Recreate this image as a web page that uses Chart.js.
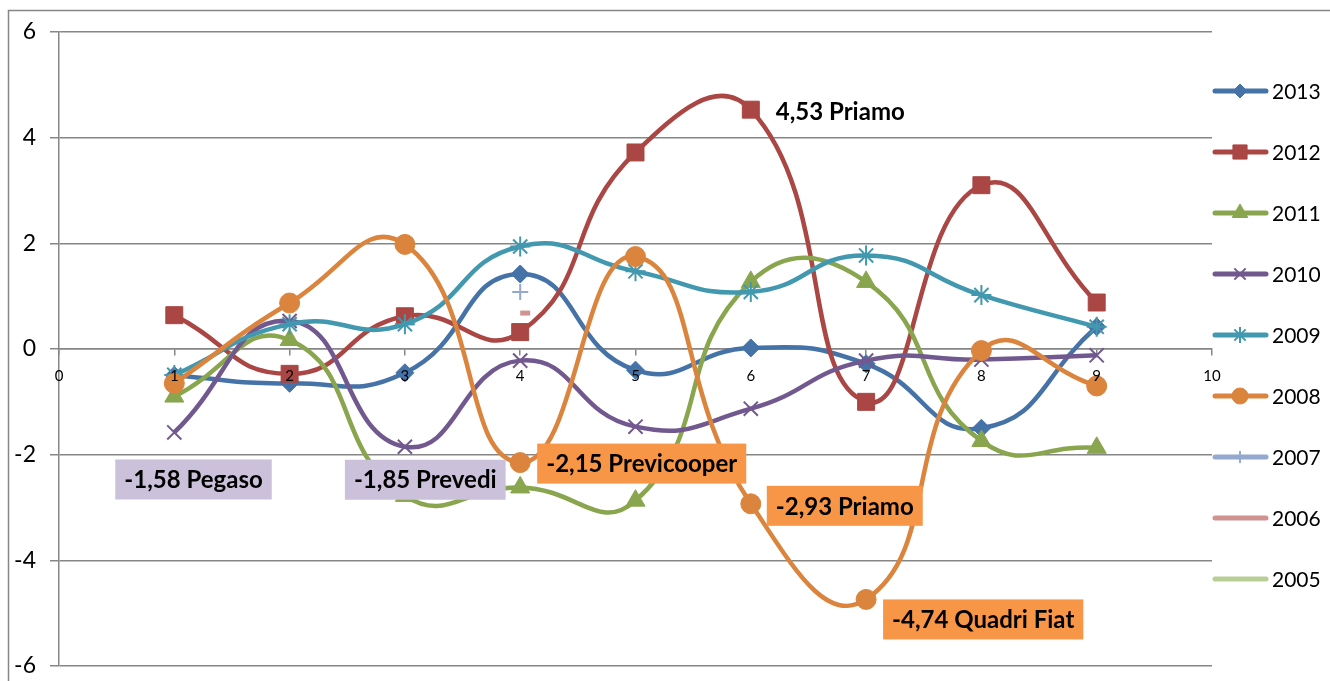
<!DOCTYPE html>
<html>
<head>
<meta charset="utf-8">
<script src="https://cdn.jsdelivr.net/npm/chart.js@4.4.0/dist/chart.umd.min.js"></script>
<style>
  html, body { margin: 0; padding: 0; background: #fff; }
  #wrap { position: relative; width: 1330px; height: 681px; }
</style>
</head>
<body>
<div id="wrap"><canvas id="chart" width="1330" height="681"></canvas></div>
<script>
// positions along the x axis (1..9)
const positions = [1, 2, 3, 4, 5, 6, 7, 8, 9];
const years = ['2013', '2012', '2011', '2010', '2009', '2008', '2007', '2006', '2005'];

const v2013 = [-0.50, -0.65, -0.45, 1.42, -0.40, 0.02, -0.28, -1.50, 0.42];
const v2012 = [0.64, -0.47, 0.62, 0.32, 3.72, 4.53, -1.00, 3.10, 0.88];
const v2011 = [-0.90, 0.17, -2.78, -2.62, -2.87, 1.27, 1.27, -1.74, -1.87];
const v2010 = [-1.58, 0.53, -1.85, -0.22, -1.47, -1.13, -0.22, -0.20, -0.12];
const v2009 = [-0.49, 0.47, 0.47, 1.94, 1.47, 1.08, 1.77, 1.02, 0.42];
const v2008 = [-0.65, 0.87, 1.98, -2.15, 1.75, -2.93, -4.74, -0.03, -0.70];
const v2007 = [null, null, null, 1.08, null, null, null, null, null];
const v2006 = [null, null, null, 0.68, null, null, null, null, null];
const v2005 = [null, null, null, null, null, null, null, null, null];
const seriesValues = [v2013, v2012, v2011, v2010, v2009, v2008, v2007, v2006, v2005];

const yTicks = [-6, -4, -2, 0, 2, 4, 6];
const xTicks = [0, 1, 2, 3, 4, 5, 6, 7, 8, 9, 10];

// annotated points: series, position index, name
const calloutSeries = ['2010', '2010', '2008', '2008', '2008', '2012'];
const calloutIndex = [0, 2, 3, 5, 6, 5];
const calloutNames = ['Pegaso', 'Prevedi', 'Previcooper', 'Priamo', 'Quadri Fiat', 'Priamo'];

// look of each series
const colors = ['#4572a7', '#aa4643', '#89a54e', '#71588f', '#4198af', '#db843d', '#93a9cf', '#d19392', '#b9cd96'];
const markers = ['rectRot', 'rect', 'triangle', 'crossRot', 'star', 'circle', 'cross', 'dash', false];
const markerSize = [9, 12, 11, 10, 10, 10, 8, 10, 0];
const markerLine = [1, 1, 1, 2, 2, 1, 2, 5, 1];

// callout boxes: offset from the point, fill
const calloutStyle = [
  { dx: -59, dy: 47, bg: '#ccc1da' },
  { dx: -60, dy: 33, bg: '#ccc1da' },
  { dx: 17, dy: 1, bg: '#f79646' },
  { dx: 16, dy: 2, bg: '#f79646' },
  { dx: 17, dy: 20, bg: '#f79646' },
  { dx: 16, dy: 2, bg: null }
];

const GRID = '#868686';
const labelFont = 'bold 24px Lato, "Open Sans", sans-serif';

const fmt = v => v.toFixed(2).replace('.', ',');

const datasets = years.map((y, i) => ({
  label: y,
  data: positions.map((p, k) => ({ x: p, y: seriesValues[i][k] })),
  showLine: true,
  borderColor: colors[i],
  backgroundColor: colors[i],
  borderWidth: 4.5,
  tension: 0.5,
  pointStyle: markers[i],
  pointRadius: markerSize[i],
  pointHoverRadius: markerSize[i],
  pointBorderWidth: markerLine[i],
  pointBackgroundColor: colors[i],
  pointBorderColor: colors[i],
  order: years.length - 1 - i
}));

// outer frame of the chart object
const framePlugin = {
  id: 'frame',
  beforeDraw(chart) {
    const ctx = chart.ctx;
    ctx.save();
    ctx.strokeStyle = GRID;
    ctx.lineWidth = 1.5;
    ctx.beginPath();
    ctx.moveTo(8.5, chart.height);
    ctx.lineTo(8.5, 10.5);
    ctx.lineTo(chart.width, 10.5);
    ctx.stroke();
    ctx.restore();
  }
};

// legend on the right: line sample with marker
const legendPlugin = {
  id: 'sideLegend',
  afterDraw(chart) {
    const ctx = chart.ctx;
    ctx.save();
    chart.data.datasets.forEach((ds, i) => {
      const y = 91 + i * 61;
      ctx.strokeStyle = ds.borderColor;
      ctx.lineWidth = 5;
      ctx.lineCap = 'round';
      ctx.beginPath();
      ctx.moveTo(1215, y);
      ctx.lineTo(1266, y);
      ctx.stroke();
      if (ds.pointStyle && ds.pointStyle !== 'dash') {
        ctx.fillStyle = ds.pointBackgroundColor;
        ctx.strokeStyle = ds.pointBorderColor;
        ctx.lineWidth = ds.pointBorderWidth;
        ctx.lineCap = 'butt';
        Chart.helpers.drawPoint(ctx, {
          pointStyle: ds.pointStyle,
          radius: ds.pointRadius - 2,
          rotation: 0,
          borderWidth: ds.pointBorderWidth
        }, 1240, y);
      }
      ctx.fillStyle = '#000';
      ctx.font = '21px Lato, "Open Sans", sans-serif';
      ctx.textAlign = 'left';
      ctx.textBaseline = 'middle';
      ctx.fillText(ds.label, 1272, y + 1);
    });
    ctx.restore();
  }
};

// value + name callouts next to the annotated points
const calloutPlugin = {
  id: 'callouts',
  afterDatasetsDraw(chart) {
    const ctx = chart.ctx;
    const xs = chart.scales.x, ys = chart.scales.y;
    ctx.save();
    ctx.font = labelFont;
    ctx.textBaseline = 'middle';
    ctx.textAlign = 'left';
    calloutNames.forEach((name, j) => {
      const s = years.indexOf(calloutSeries[j]);
      const k = calloutIndex[j];
      const value = seriesValues[s][k];
      const px = xs.getPixelForValue(positions[k]);
      const py = ys.getPixelForValue(value);
      const st = calloutStyle[j];
      const text = fmt(value) + ' ' + name;
      const w = ctx.measureText(text).width + 18;
      const left = px + st.dx, cy = py + st.dy;
      if (st.bg) {
        ctx.fillStyle = st.bg;
        ctx.fillRect(left, cy - 20, w, 40);
      }
      ctx.fillStyle = '#000';
      ctx.fillText(text, left + 9, cy + 1);
    });
    ctx.restore();
  }
};

new Chart(document.getElementById('chart'), {
  type: 'scatter',
  data: { datasets },
  options: {
    responsive: false,
    animation: false,
    events: [],
    layout: { padding: { left: 0, top: 32, right: 118, bottom: 13 } },
    plugins: { legend: { display: false }, tooltip: { enabled: false } },
    scales: {
      x: {
        type: 'linear',
        position: { y: 0 },
        min: 0,
        max: 10,
        afterBuildTicks(scale) { scale.ticks = xTicks.map(v => ({ value: v })); },
        afterFit(scale) { scale.height = 0; },
        grid: { drawOnChartArea: false, drawTicks: true, tickLength: 6, color: GRID, lineWidth: 1.5 },
        border: { display: true, color: GRID, width: 1.5 },
        ticks: { z: 1, color: '#000', padding: 12, font: { family: 'Lato, "Open Sans", sans-serif', size: 15 } }
      },
      y: {
        min: -6,
        max: 6,
        afterBuildTicks(scale) { scale.ticks = yTicks.map(v => ({ value: v })); },
        afterFit(scale) {
          scale.width = 59;
          scale.paddingTop = 0;
          scale.paddingBottom = 0;
        },
        grid: { color: GRID, lineWidth: 1.5, tickLength: 9, drawTicks: true },
        border: { display: true, color: GRID, width: 1.5 },
        ticks: { color: '#000', padding: 14, font: { family: 'Lato, "Open Sans", sans-serif', size: 23 } }
      }
    }
  },
  plugins: [framePlugin, legendPlugin, calloutPlugin]
});
</script>
</body>
</html>
